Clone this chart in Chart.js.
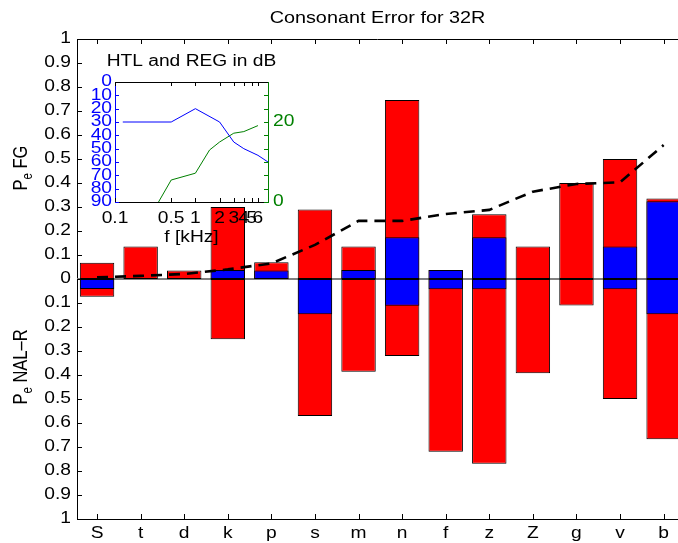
<!DOCTYPE html>
<html>
<head>
<meta charset="utf-8">
<title>Consonant Error for 32R</title>
<script src="https://cdn.jsdelivr.net/npm/chart.js@4/dist/chart.umd.min.js"></script>
<style>
  html, body { margin: 0; padding: 0; background: #fff; overflow: hidden; }
  #wrap { position: relative; width: 678px; height: 543px; }
  #main { position: absolute; left: 0; top: 0; }
  #inset { position: absolute; left: 40px; top: 40px; }
</style>
</head>
<body>
<div id="wrap">
  <canvas id="main" width="678" height="543"></canvas>
  <canvas id="inset" width="262" height="215"></canvas>
</div>
<script>
// ---- consonant error data ----
const categories = ['S', 't', 'd', 'k', 'p', 's', 'm', 'n', 'f', 'z', 'Z', 'g', 'v', 'b'];
// P_e with the FG fitting (drawn upward)
const fgTotal = [0.068, 0.135, 0.035, 0.30, 0.07, 0.29, 0.135, 0.746, 0.037, 0.27, 0.135, 0.40, 0.50, 0.335];
const fgPart  = [null, null, null, 0.037, 0.035, null, 0.037, 0.174, 0.037, 0.174, null, null, 0.135, 0.324];
// P_e with NAL-R (drawn downward)
const nalTotal = [0.074, null, null, 0.251, null, 0.571, 0.386, 0.321, 0.72, 0.77, 0.393, 0.11, 0.50, 0.668];
const nalPart  = [0.042, null, null, null, null, 0.147, null, 0.111, 0.043, 0.043, null, null, 0.043, 0.147];
// running curve (dashed)
const curve = [0.007, 0.013, 0.021, 0.04, 0.065, 0.142, 0.242, 0.242, 0.271, 0.288, 0.364, 0.396, 0.403, 0.558];
const yTickStep = 0.1;

// ---- audiogram inset data ----
const htlFreq = [0.125, 0.25, 0.5, 1, 2, 3, 4, 6, 8];
const htlDb   = [30, 30, 30, 20, 30, 45, 50, 55, 60];
const regFreq = [0.25, 0.5, 1, 1.5, 2, 3, 4, 6];
const regDb   = [-5, 5.5, 7.2, 13, 15, 17.2, 17.6, 19.1];
const freqTicks = [0.1, 0.5, 1, 2, 3, 4, 5, 6];
const htlTicks = [0, 10, 20, 30, 40, 50, 60, 70, 80, 90];
const regTicks = [0, 20];

const FAMILY = '"Liberation Sans", Arial, Helvetica, sans-serif';
const STRETCH = 1.2;   // the figure's lettering is set wide
Chart.defaults.font.family = FAMILY;
Chart.defaults.font.size = 16;
Chart.defaults.color = '#000';

// draw all labels of a context horizontally widened
function widen(ctx, k) {
  const fill = ctx.fillText.bind(ctx);
  const measure = ctx.measureText.bind(ctx);
  ctx.plainFillText = fill;
  ctx.fillText = function (text, x, y) {
    this.save();
    this.translate(x, y);
    this.scale(k, 1);
    fill(text, 0, 0);
    this.restore();
  };
  ctx.measureText = function (text) {
    const m = measure(text);
    return {
      width: m.width * k,
      actualBoundingBoxAscent: m.actualBoundingBoxAscent,
      actualBoundingBoxDescent: m.actualBoundingBoxDescent,
      actualBoundingBoxLeft: m.actualBoundingBoxLeft * k,
      actualBoundingBoxRight: m.actualBoundingBoxRight * k
    };
  };
  return ctx;
}

// inward tick marks and extra frame lines
const frame = {
  id: 'frame',
  beforeDraw(chart, args, opts) {
    if (!opts.background) return;
    const a = chart.chartArea, ctx = chart.ctx;
    ctx.save();
    ctx.fillStyle = opts.background;
    ctx.fillRect(a.left, a.top, a.right - a.left, a.bottom - a.top);
    ctx.restore();
  },
  afterDraw(chart, args, opts) {
    const a = chart.chartArea, ctx = chart.ctx;
    ctx.save();
    ctx.lineWidth = 1;
    (opts.marks || []).forEach(m => {
      const scale = chart.scales[m.scale];
      ctx.strokeStyle = m.color;
      ctx.beginPath();
      scale.ticks.forEach(t => {
        const p = Math.round(scale.getPixelForValue(t.value)) + 0.5;
        m.sides.forEach(side => {
          if (side === 'bottom') { ctx.moveTo(p, a.bottom); ctx.lineTo(p, a.bottom - m.len); }
          if (side === 'top') { ctx.moveTo(p, a.top); ctx.lineTo(p, a.top + m.len); }
          if (side === 'left') { ctx.moveTo(a.left, p); ctx.lineTo(a.left + m.len, p); }
          if (side === 'right') { ctx.moveTo(a.right, p); ctx.lineTo(a.right - m.len, p); }
        });
      });
      ctx.stroke();
    });
    if (opts.topLine) {
      ctx.strokeStyle = opts.topLine;
      ctx.beginPath();
      ctx.moveTo(a.left, Math.round(a.top) + 0.5);
      ctx.lineTo(a.right, Math.round(a.top) + 0.5);
      ctx.stroke();
    }
    ctx.restore();
  }
};

// grey baseline at zero, under the bars
const baseline = {
  id: 'baseline',
  beforeDatasetsDraw(chart) {
    const a = chart.chartArea, ctx = chart.ctx;
    const y0 = chart.scales.y.getPixelForValue(0);
    ctx.save();
    ctx.strokeStyle = '#808080';
    ctx.lineWidth = 2;
    ctx.beginPath();
    ctx.moveTo(a.left, y0);
    ctx.lineTo(a.right, y0);
    ctx.stroke();
    ctx.restore();
  }
};

// rotated axis labels with a subscript
const sideLabels = {
  id: 'sideLabels',
  afterDraw(chart, args, opts) {
    const ctx = chart.ctx;
    const fill = ctx.plainFillText || ctx.fillText.bind(ctx);
    const big = opts.size + 'px ' + FAMILY, small = opts.subSize + 'px ' + FAMILY;
    opts.items.forEach(it => {
      ctx.save();
      ctx.translate(it.x, it.y);
      ctx.rotate(-Math.PI / 2);
      ctx.scale(1, STRETCH);
      ctx.fillStyle = '#000';
      ctx.textBaseline = 'alphabetic';
      ctx.textAlign = 'left';
      ctx.font = big;
      const w1 = ctx.measureText(it.main).width / STRETCH;
      const w3 = ctx.measureText(it.rest).width / STRETCH;
      ctx.font = small;
      const w2 = ctx.measureText(it.sub).width / STRETCH;
      let x = -(w1 + w2 + w3) / 2;
      ctx.font = big; fill(it.main, x, 0); x += w1;
      ctx.font = small; fill(it.sub, x, opts.subShift); x += w2;
      ctx.font = big; fill(it.rest, x, 0);
      ctx.restore();
    });
  }
};

const xs = categories.map((c, i) => i + 1);
const pts = (vals, sign) => vals.map((v, i) => ({ x: xs[i], y: v === null ? null : sign * v }));

new Chart(widen(document.getElementById('main').getContext('2d'), STRETCH), {
  type: 'bar',
  data: {
    datasets: [
      { type: 'line', data: pts(curve, 1), borderColor: '#000', borderWidth: 2.6,
        borderDash: [11, 7], pointRadius: 0, fill: false, tension: 0, order: 0 },
      { data: pts(fgPart, 1), backgroundColor: '#0000ff', order: 1 },
      { data: pts(nalPart, -1), backgroundColor: '#0000ff', order: 1 },
      { data: pts(fgTotal, 1), backgroundColor: '#ff0000', order: 2 },
      { data: pts(nalTotal, -1), backgroundColor: '#ff0000', order: 2 }
    ]
  },
  options: {
    responsive: false,
    animation: false,
    devicePixelRatio: 1,
    layout: { padding: 0 },
    datasets: {
      bar: { grouped: false, categoryPercentage: 1, barPercentage: 0.79,
             borderColor: '#000', borderWidth: 1, borderSkipped: false }
    },
    plugins: {
      legend: { display: false },
      tooltip: { enabled: false },
      title: { display: true, fullSize: false, text: 'Consonant Error for 32R',
               font: { size: 16.5, weight: 'normal' }, color: '#000',
               padding: { top: 8.5, bottom: 10.7 } },
      frame: {
        topLine: '#000',
        marks: [
          { scale: 'x', sides: ['bottom', 'top'], len: 5, color: '#000' },
          { scale: 'y', sides: ['left'], len: 5, color: '#000' }
        ]
      },
      sideLabels: {
        size: 16.5, subSize: 11.5, subShift: 4,
        items: [
          { main: 'P', sub: 'e', rest: ' FG', x: 27, y: 168 },
          { main: 'P', sub: 'e', rest: ' NAL\u2013R', x: 27, y: 367 }
        ]
      }
    },
    scales: {
      x: {
        type: 'linear', min: 0.54, max: 14.33, offset: false,
        afterBuildTicks: s => { s.ticks = xs.map(v => ({ value: v })); },
        afterFit: s => { s.height = 24; },
        ticks: { callback: v => categories[v - 1], autoSkip: false, maxRotation: 0, minRotation: 0, padding: 5 },
        grid: { display: false, drawTicks: false, offset: false },
        border: { color: '#000', width: 1 }
      },
      y: {
        min: -1, max: 1,
        afterFit: s => { s.width = 77; },
        ticks: { stepSize: yTickStep, autoSkip: false, padding: 6,
                 callback: v => String(Math.round(Math.abs(v) * 10) / 10) },
        grid: { display: false, drawTicks: false },
        border: { color: '#000', width: 1 }
      }
    }
  },
  plugins: [baseline, frame, sideLabels]
});

new Chart(widen(document.getElementById('inset').getContext('2d'), STRETCH), {
  type: 'line',
  data: {
    datasets: [
      { data: htlFreq.map((f, i) => ({ x: f, y: htlDb[i] })), borderColor: '#0000ff',
        borderWidth: 1, pointRadius: 0, tension: 0, yAxisID: 'y' },
      { data: regFreq.map((f, i) => ({ x: f, y: regDb[i] })), borderColor: '#008000',
        borderWidth: 1, pointRadius: 0, tension: 0, yAxisID: 'y2' }
    ]
  },
  options: {
    responsive: false,
    animation: false,
    devicePixelRatio: 1,
    layout: { padding: 0 },
    plugins: {
      legend: { display: false },
      tooltip: { enabled: false },
      title: { display: true, fullSize: false, text: 'HTL and REG in dB',
               font: { size: 16, weight: 'normal' }, color: '#000',
               padding: { top: 12.4, bottom: 10.4 } },
      frame: {
        background: '#fff',
        topLine: '#000',
        marks: [
          { scale: 'x', sides: ['bottom', 'top'], len: 4, color: '#000' },
          { scale: 'y', sides: ['left'], len: 4, color: '#0000ff' },
          { scale: 'y', sides: ['right'], len: 4, color: '#008000' }
        ]
      }
    },
    scales: {
      x: {
        type: 'logarithmic', min: 0.1, max: 8,
        afterBuildTicks: s => { s.ticks = freqTicks.map(v => ({ value: v })); },
        afterFit: s => { s.height = 53; },
        ticks: { callback: v => String(v), autoSkip: false, maxRotation: 0, minRotation: 0, padding: 7, color: '#000' },
        grid: { display: false, drawTicks: false },
        border: { color: '#000', width: 1 },
        title: { display: true, text: 'f [kHz]', color: '#000', font: { size: 16 },
                 padding: { top: 0, bottom: 7.4 } }
      },
      y: {
        position: 'left', reverse: true, min: 0, max: 90,
        afterBuildTicks: s => { s.ticks = htlTicks.map(v => ({ value: v })); },
        afterFit: s => { s.width = 75; },
        ticks: { autoSkip: false, color: '#0000ff', padding: 3 },
        grid: { display: false, drawTicks: false },
        border: { color: '#0000ff', width: 1 }
      },
      y2: {
        position: 'right', min: 0, max: 30,
        afterBuildTicks: s => { s.ticks = regTicks.map(v => ({ value: v })); },
        afterFit: s => { s.width = 34; },
        ticks: { autoSkip: false, color: '#008000', padding: 5 },
        grid: { display: false, drawTicks: false },
        border: { color: '#008000', width: 1 }
      }
    }
  },
  plugins: [frame]
});
</script>
</body>
</html>
